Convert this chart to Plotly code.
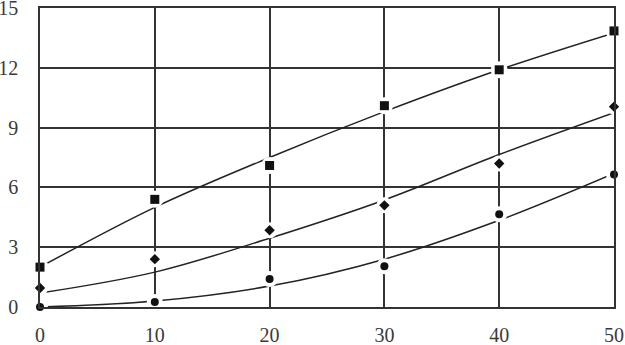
import plotly.graph_objects as go

x_vals = [0, 10, 20, 30, 40, 50]

# measured points
squares = [2.0, 5.4, 7.1, 10.1, 11.9, 13.85]
diamonds = [0.95, 2.4, 3.85, 5.1, 7.2, 10.05]
circles = [0.0, 0.25, 1.4, 2.05, 4.65, 6.65]

# fitted curves
squares_fit = [2.0, 5.0, 7.5, 9.8, 11.9, 13.75]
diamonds_fit = [0.7, 1.75, 3.45, 5.37, 7.65, 9.75]
circles_fit = [0.0, 0.3, 1.05, 2.4, 4.35, 6.7]

x_ticks = [0, 10, 20, 30, 40, 50]
y_ticks = [0, 3, 6, 9, 12, 15]

dark = "#222222"
fig = go.Figure()

for fit in (squares_fit, diamonds_fit, circles_fit):
    fig.add_trace(go.Scatter(x=x_vals, y=fit, mode="lines",
                             line=dict(color=dark, width=1.5, shape="spline", smoothing=1.0),
                             showlegend=False, hoverinfo="skip", cliponaxis=False))

series = ((squares, "square", 9), (diamonds, "diamond", 8), (circles, "circle", 8))
# white halos
for vals, sym, size in series:
    fig.add_trace(go.Scatter(x=x_vals, y=vals, mode="markers",
                             marker=dict(symbol="circle", size=size + 8, color="white", line=dict(width=0)),
                             showlegend=False, hoverinfo="skip", cliponaxis=False))
for vals, sym, size in series:
    fig.add_trace(go.Scatter(x=x_vals, y=vals, mode="markers",
                             marker=dict(symbol=sym, size=size, color="#111111", line=dict(width=0)),
                             showlegend=False, cliponaxis=False))

axis_font = dict(family="Liberation Serif, Times New Roman, serif", size=20, color="#3a3a3a")
fig.update_xaxes(range=[0, 50], tickvals=x_ticks, showgrid=True, gridcolor="#333333", gridwidth=1.5,
                 zeroline=False, showline=True, linecolor="#333333", linewidth=1.5, mirror=True,
                 tickfont=axis_font, ticks="", ticklabelstandoff=9, automargin=False,
                 ticklabeloverflow="allow")
fig.update_yaxes(range=[0, 15], tickvals=y_ticks, showgrid=True, gridcolor="#333333", gridwidth=1.5,
                 zeroline=False, showline=True, linecolor="#333333", linewidth=1.5, mirror=True,
                 tickfont=axis_font, ticks="", ticklabelstandoff=16, automargin=False,
                 ticklabeloverflow="allow")

fig.update_layout(width=625, height=345, margin=dict(l=40, r=11, t=8, b=38),
                  plot_bgcolor="white", paper_bgcolor="white")

fig.write_html("out.html", config={"displayModeBar": False},
               post_script="document.body.style.margin='0';document.body.style.overflow='hidden';")
